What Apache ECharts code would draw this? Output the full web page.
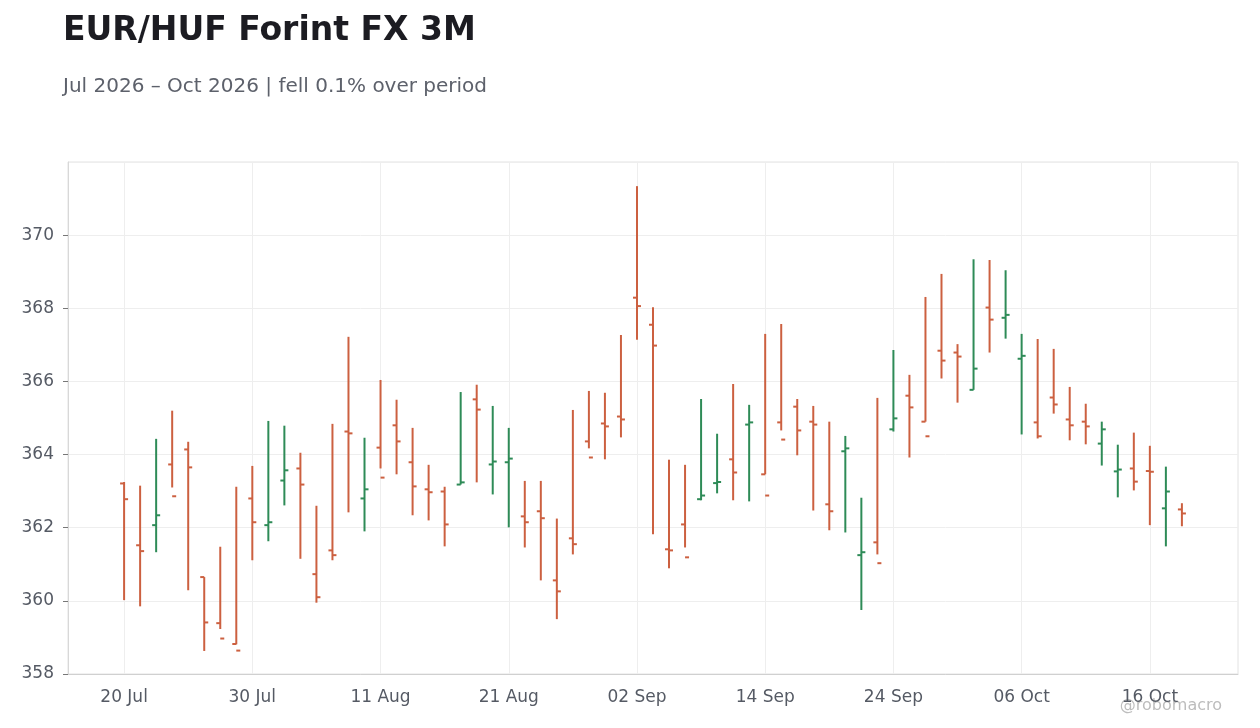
<!DOCTYPE html>
<html>
<head>
<meta charset="utf-8">
<title>EUR/HUF Forint FX 3M</title>
<script src="https://cdn.jsdelivr.net/npm/echarts@6/dist/echarts.min.js"></script>
<style>
  html, body { margin: 0; padding: 0; background: #fff; }
  #main { width: 1260px; height: 728px; }
</style>
</head>
<body>
<div id="main"></div>
<script>
// business days, Jul 20 - Oct 20 2026
var dates = [
  '20 Jul','21 Jul','22 Jul','23 Jul','24 Jul','27 Jul','28 Jul','29 Jul','30 Jul','31 Jul',
  '03 Aug','04 Aug','05 Aug','06 Aug','07 Aug','10 Aug','11 Aug','12 Aug','13 Aug','14 Aug',
  '17 Aug','18 Aug','19 Aug','20 Aug','21 Aug','24 Aug','25 Aug','26 Aug','27 Aug','28 Aug','31 Aug',
  '01 Sep','02 Sep','03 Sep','04 Sep','07 Sep','08 Sep','09 Sep','10 Sep','11 Sep','14 Sep',
  '15 Sep','16 Sep','17 Sep','18 Sep','21 Sep','22 Sep','23 Sep','24 Sep','25 Sep','28 Sep','29 Sep','30 Sep',
  '01 Oct','02 Oct','05 Oct','06 Oct','07 Oct','08 Oct','09 Oct','12 Oct','13 Oct','14 Oct','15 Oct','16 Oct','19 Oct','20 Oct'
];
// empty slots so the axis has some room on both sides
var padBefore = ['15 Jul','16 Jul','17 Jul'];
var padAfter = ['21 Oct','22 Oct','23 Oct'];

var opens = [
  363.21, 361.52, 362.07, 363.73, 364.14, 360.65, 359.39, 358.82, 362.80, 362.07,
  363.29, 363.62, 360.73, 361.38, 364.63, 362.80, 364.19, 364.80, 363.79, 363.05,
  362.99, 363.18, 365.51, 363.73, 363.79, 362.31, 362.45, 360.56, 361.71, 364.36,
  364.85, 365.04, 368.29, 367.55, 361.41, 362.09, 362.78, 363.22, 363.87, 364.82,
  363.46, 364.88, 365.31, 364.90, 362.64, 364.09, 361.25, 361.60, 364.69, 365.61,
  364.90, 366.84, 366.79, 365.77, 368.02, 367.74, 366.62, 364.88, 365.56, 364.96,
  364.90, 364.30, 363.54, 363.62, 363.55, 362.53, 362.50
];
var closes = [
  362.78, 361.36, 362.34, 362.86, 363.65, 359.41, 358.97, 358.64, 362.15, 362.15,
  363.57, 363.18, 360.10, 361.25, 364.58, 363.05, 363.37, 364.36, 363.13, 362.97,
  362.09, 363.24, 365.23, 363.81, 363.89, 362.15, 362.26, 360.26, 361.55, 363.92,
  364.77, 364.96, 368.06, 366.98, 361.38, 361.19, 362.88, 363.25, 363.51, 364.88,
  362.88, 364.41, 364.66, 364.82, 362.45, 364.17, 361.33, 361.03, 364.99, 365.29,
  364.50, 366.57, 366.68, 366.35, 367.69, 367.82, 366.70, 364.50, 365.37, 364.80,
  364.77, 364.69, 363.59, 363.26, 363.53, 362.99, 362.39
];
var lows = [
  360.02, 359.85, 361.33, 363.10, 360.29, 358.63, 359.23, 358.81, 361.11, 361.63,
  362.61, 361.15, 359.95, 361.11, 362.42, 361.90, 363.62, 363.46, 362.34, 362.20,
  361.49, 363.18, 363.24, 362.91, 362.01, 361.46, 360.56, 359.50, 361.27, 364.17,
  363.87, 364.47, 367.14, 361.82, 360.89, 361.46, 362.75, 362.94, 362.75, 362.72,
  363.46, 364.66, 363.98, 362.47, 361.93, 361.87, 359.75, 361.27, 364.63, 363.92,
  364.90, 366.08, 365.42, 365.77, 366.79, 367.17, 364.55, 364.44, 365.12, 364.39,
  364.28, 363.70, 362.83, 363.02, 362.07, 361.49, 362.04
];
var highs = [
  363.25, 363.15, 364.43, 365.20, 364.35, 360.65, 361.48, 363.12, 363.69, 364.92,
  364.79, 364.05, 362.60, 364.84, 367.22, 364.46, 366.04, 365.50, 364.73, 363.72,
  363.12, 365.71, 365.91, 365.33, 364.73, 363.28, 363.28, 362.25, 365.22, 365.74,
  365.69, 367.27, 371.34, 368.03, 363.86, 363.72, 365.52, 364.57, 365.93, 365.36,
  367.30, 367.57, 365.52, 365.33, 364.90, 364.51, 362.82, 365.55, 366.86, 366.18,
  368.31, 368.94, 367.02, 369.34, 369.32, 369.04, 367.30, 367.16, 366.89, 365.85,
  365.39, 364.90, 364.27, 364.60, 364.24, 363.67, 362.67
];

var upColor = '#2e8b57';
var downColor = '#cc6040';
var textColor = '#555a64';

var categories = padBefore.concat(dates).concat(padAfter);
var ohlc = [];
for (var i = 0; i < dates.length; i++) {
  ohlc.push([dates[i], opens[i], closes[i], lows[i], highs[i]]);
}

function showTick(index) {
  return index >= padBefore.length && (index - padBefore.length) % 8 === 0 &&
    index < padBefore.length + dates.length;
}

function renderBar(params, api) {
  var x = api.coord([api.value(0), api.value(1)])[0];
  var yo = api.coord([api.value(0), api.value(1)])[1];
  var yc = api.coord([api.value(0), api.value(2)])[1];
  var yl = api.coord([api.value(0), api.value(3)])[1];
  var yh = api.coord([api.value(0), api.value(4)])[1];
  var color = api.value(2) > api.value(1) ? upColor : downColor;
  var st = { stroke: color, lineWidth: 2 };
  return {
    type: 'group',
    children: [
      { type: 'line', shape: { x1: x, y1: yh, x2: x, y2: yl }, style: st },
      { type: 'line', shape: { x1: x - 4, y1: yo, x2: x, y2: yo }, style: st },
      { type: 'line', shape: { x1: x, y1: yc, x2: x + 4, y2: yc }, style: st }
    ]
  };
}

var myChart = echarts.init(document.getElementById('main'));
var option = {
  backgroundColor: '#ffffff',
  animation: false,
  textStyle: { fontFamily: 'DejaVu Sans' },
  title: {
    text: 'EUR/HUF Forint FX 3M',
    subtext: 'Jul 2026 \u2013 Oct 2026 | fell 0.1% over period',
    left: 58,
    top: 10,
    itemGap: 29,
    textStyle: { fontSize: 33, fontWeight: 'bold', color: '#1c1c22', fontFamily: 'DejaVu Sans' },
    subtextStyle: { fontSize: 20, color: '#5d616b', fontFamily: 'DejaVu Sans' }
  },
  grid: {
    left: 68, right: 22, top: 162, bottom: 54,
    show: true, borderColor: '#e2e2e2', borderWidth: 1
  },
  xAxis: {
    type: 'category',
    data: categories,
    boundaryGap: true,
    axisLine: { lineStyle: { color: '#d0d0d0' } },
    axisTick: { alignWithLabel: true, interval: showTick, length: 5, lineStyle: { color: '#777' } },
    axisLabel: { interval: showTick, color: textColor, fontSize: 17, margin: 15 },
    splitLine: { show: true, alignWithLabel: true, interval: showTick, lineStyle: { color: '#eeeeee' } }
  },
  yAxis: {
    type: 'value',
    min: 358,
    max: 372,
    interval: 2,
    axisLine: { show: true, lineStyle: { color: '#d8d8d8' } },
    axisTick: { show: true, length: 5, lineStyle: { color: '#777' } },
    axisLabel: { color: textColor, fontSize: 17, margin: 14, showMaxLabel: false },
    splitLine: { lineStyle: { color: '#eeeeee' } }
  },
  graphic: [{
    type: 'text',
    right: 38,
    bottom: 14,
    style: { text: '@robomacro', fill: '#bdbdbd', font: '16px "DejaVu Sans"' }
  }],
  series: [{
    type: 'custom',
    name: 'EUR/HUF',
    renderItem: renderBar,
    encode: { x: 0, y: [1, 2, 3, 4] },
    data: ohlc
  }]
};
myChart.setOption(option);
</script>
</body>
</html>
